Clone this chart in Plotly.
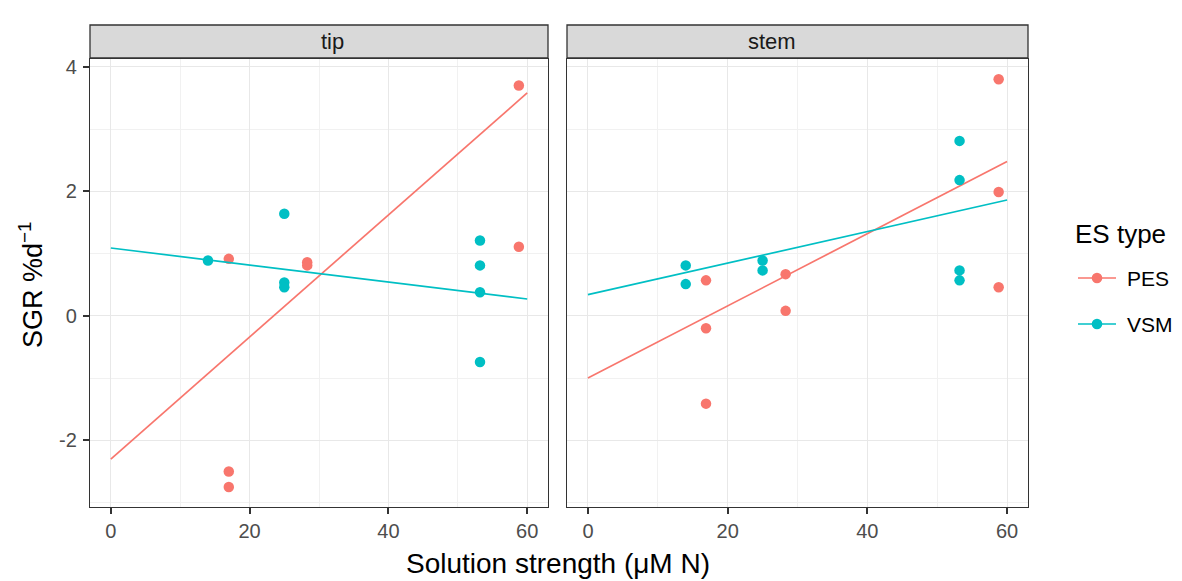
import plotly.graph_objects as go

# ---------------- data ----------------
tip_pes_x = [17, 17, 17, 28.3, 28.3, 58.8, 58.8]
tip_pes_y = [0.915, -2.50, -2.75, 0.86, 0.81, 3.70, 1.11]
tip_vsm_x = [14, 25, 25, 25, 53.2, 53.2, 53.2, 53.2]
tip_vsm_y = [0.89, 1.64, 0.535, 0.46, 1.21, 0.81, 0.38, -0.74]

stem_pes_x = [16.9, 16.9, 16.9, 28.3, 28.3, 58.8, 58.8, 58.8]
stem_pes_y = [0.57, -0.20, -1.41, 0.67, 0.08, 3.80, 1.99, 0.46]
stem_vsm_x = [14, 14, 25, 25, 53.2, 53.2, 53.2, 53.2]
stem_vsm_y = [0.81, 0.51, 0.89, 0.73, 2.81, 2.18, 0.73, 0.57]

fit_x = [0, 60]
tip_pes_fit = [-2.30, 3.58]
tip_vsm_fit = [1.09, 0.27]
stem_pes_fit = [-1.00, 2.48]
stem_vsm_fit = [0.34, 1.86]

x_ticks = [0, 20, 40, 60]
y_ticks = [-2, 0, 2, 4]
y_tick_text = ["-2", "0", "2", "4"]
panels = ["tip", "stem"]
series = ["PES", "VSM"]
colors = {"PES": "#F8766D", "VSM": "#00BFC4"}

FONT = "Liberation Sans, Arial, sans-serif"

fig = go.Figure()

panel_data = [
    ("x", "y", {"PES": (tip_pes_x, tip_pes_y, tip_pes_fit), "VSM": (tip_vsm_x, tip_vsm_y, tip_vsm_fit)}),
    ("x2", "y2", {"PES": (stem_pes_x, stem_pes_y, stem_pes_fit), "VSM": (stem_vsm_x, stem_vsm_y, stem_vsm_fit)}),
]

for i, (xa, ya, d) in enumerate(panel_data):
    for s in series:
        px, py, fy = d[s]
        fig.add_trace(go.Scatter(x=fit_x, y=fy, mode="lines", xaxis=xa, yaxis=ya,
                                 line=dict(color=colors[s], width=1.7),
                                 name=s, legendgroup=s, showlegend=False, hoverinfo="skip"))
        fig.add_trace(go.Scatter(x=px, y=py, mode="markers", xaxis=xa, yaxis=ya,
                                 marker=dict(color=colors[s], size=10.5),
                                 name=s, legendgroup=s, showlegend=False))

L, R, T, B = 90, 154, 25, 74
W, H = 1182, 581
pw = W - L - R
ph = H - T - B
dom1 = [0, (548 - L) / pw]
dom2 = [(567 - L) / pw, 1]
ytop = (507 - 59) / ph


def px_x(p):
    return (p - L) / pw


def px_y(p):
    return (H - B - p) / ph


axis_common = dict(
    showline=True, mirror=True, linecolor="#333333", linewidth=1.3,
    gridcolor="#e8e8e8", gridwidth=1.4, zeroline=False,
    ticks="outside", ticklen=6, tickcolor="#333333", tickwidth=1.6,
    tickfont=dict(family=FONT, size=20, color="#4d4d4d"),
)
xr = [-3, 63]
yr = [-3.07, 4.125]
minor_x = dict(tick0=10, dtick=20, showgrid=True, gridcolor="#f1f1f1", gridwidth=0.9, ticks="")
minor_y = dict(tick0=-3, dtick=2, showgrid=True, gridcolor="#f1f1f1", gridwidth=0.9, ticks="")

fig.update_layout(
    width=W, height=H,
    margin=dict(l=L, r=R, t=T, b=B),
    paper_bgcolor="white", plot_bgcolor="white",
    font=dict(family=FONT),
    showlegend=False,
    xaxis=dict(domain=dom1, range=xr, tickvals=x_ticks, anchor="y", minor=minor_x, **axis_common),
    xaxis2=dict(domain=dom2, range=xr, tickvals=x_ticks, anchor="y2", minor=minor_x, **axis_common),
    yaxis=dict(domain=[0, ytop], range=yr, tickvals=y_ticks, ticktext=y_tick_text, anchor="x",
               minor=minor_y, ticklabelstandoff=2, **axis_common),
    yaxis2=dict(domain=[0, ytop], range=yr, tickvals=y_ticks, anchor="x2", matches="y",
                minor=minor_y, **{**axis_common, "ticks": "", "showticklabels": False}),
)

# axis titles
fig.add_annotation(text="Solution strength (μM N)", xref="paper", yref="paper",
                   x=px_x(558), y=px_y(563), xanchor="center", yanchor="middle",
                   showarrow=False, font=dict(family=FONT, size=28, color="black"))
fig.add_annotation(text="SGR %d<sup>−1</sup>", xref="paper", yref="paper",
                   x=px_x(31), y=px_y(285), xanchor="center", yanchor="middle", textangle=-90,
                   showarrow=False, font=dict(family=FONT, size=27, color="black"))

# strips
for name, dom in zip(panels, [dom1, dom2]):
    fig.add_shape(type="rect", xref="paper", yref="paper",
                  x0=dom[0], x1=dom[1], y0=px_y(58), y1=px_y(25),
                  fillcolor="#d9d9d9", line=dict(color="#333333", width=1.3), layer="below")
    fig.add_annotation(text=name, xref="paper", yref="paper",
                       x=0.5 * (dom[0] + dom[1]), y=px_y(41.5), yanchor="middle",
                       showarrow=False, font=dict(family=FONT, size=22, color="#1a1a1a"))

# legend (drawn manually to match ggplot spacing)
fig.add_annotation(text="ES type", xref="paper", yref="paper",
                   x=px_x(1073), y=px_y(234), xanchor="left", yanchor="middle",
                   showarrow=False, font=dict(family=FONT, size=26, color="black"))
for s, yc in zip(series, [278, 324]):
    fig.add_shape(type="line", xref="paper", yref="paper",
                  x0=px_x(1078), x1=px_x(1116), y0=px_y(yc), y1=px_y(yc),
                  line=dict(color=colors[s], width=1.7))
    r = 5.3
    fig.add_shape(type="circle", xref="paper", yref="paper",
                  x0=px_x(1097 - r), x1=px_x(1097 + r), y0=px_y(yc + r), y1=px_y(yc - r),
                  fillcolor=colors[s], line=dict(color=colors[s], width=0))
    fig.add_annotation(text=s, xref="paper", yref="paper",
                       x=px_x(1125), y=px_y(yc), xanchor="left", yanchor="middle",
                       showarrow=False, font=dict(family=FONT, size=21, color="black"))

fig.write_html("out.html")
